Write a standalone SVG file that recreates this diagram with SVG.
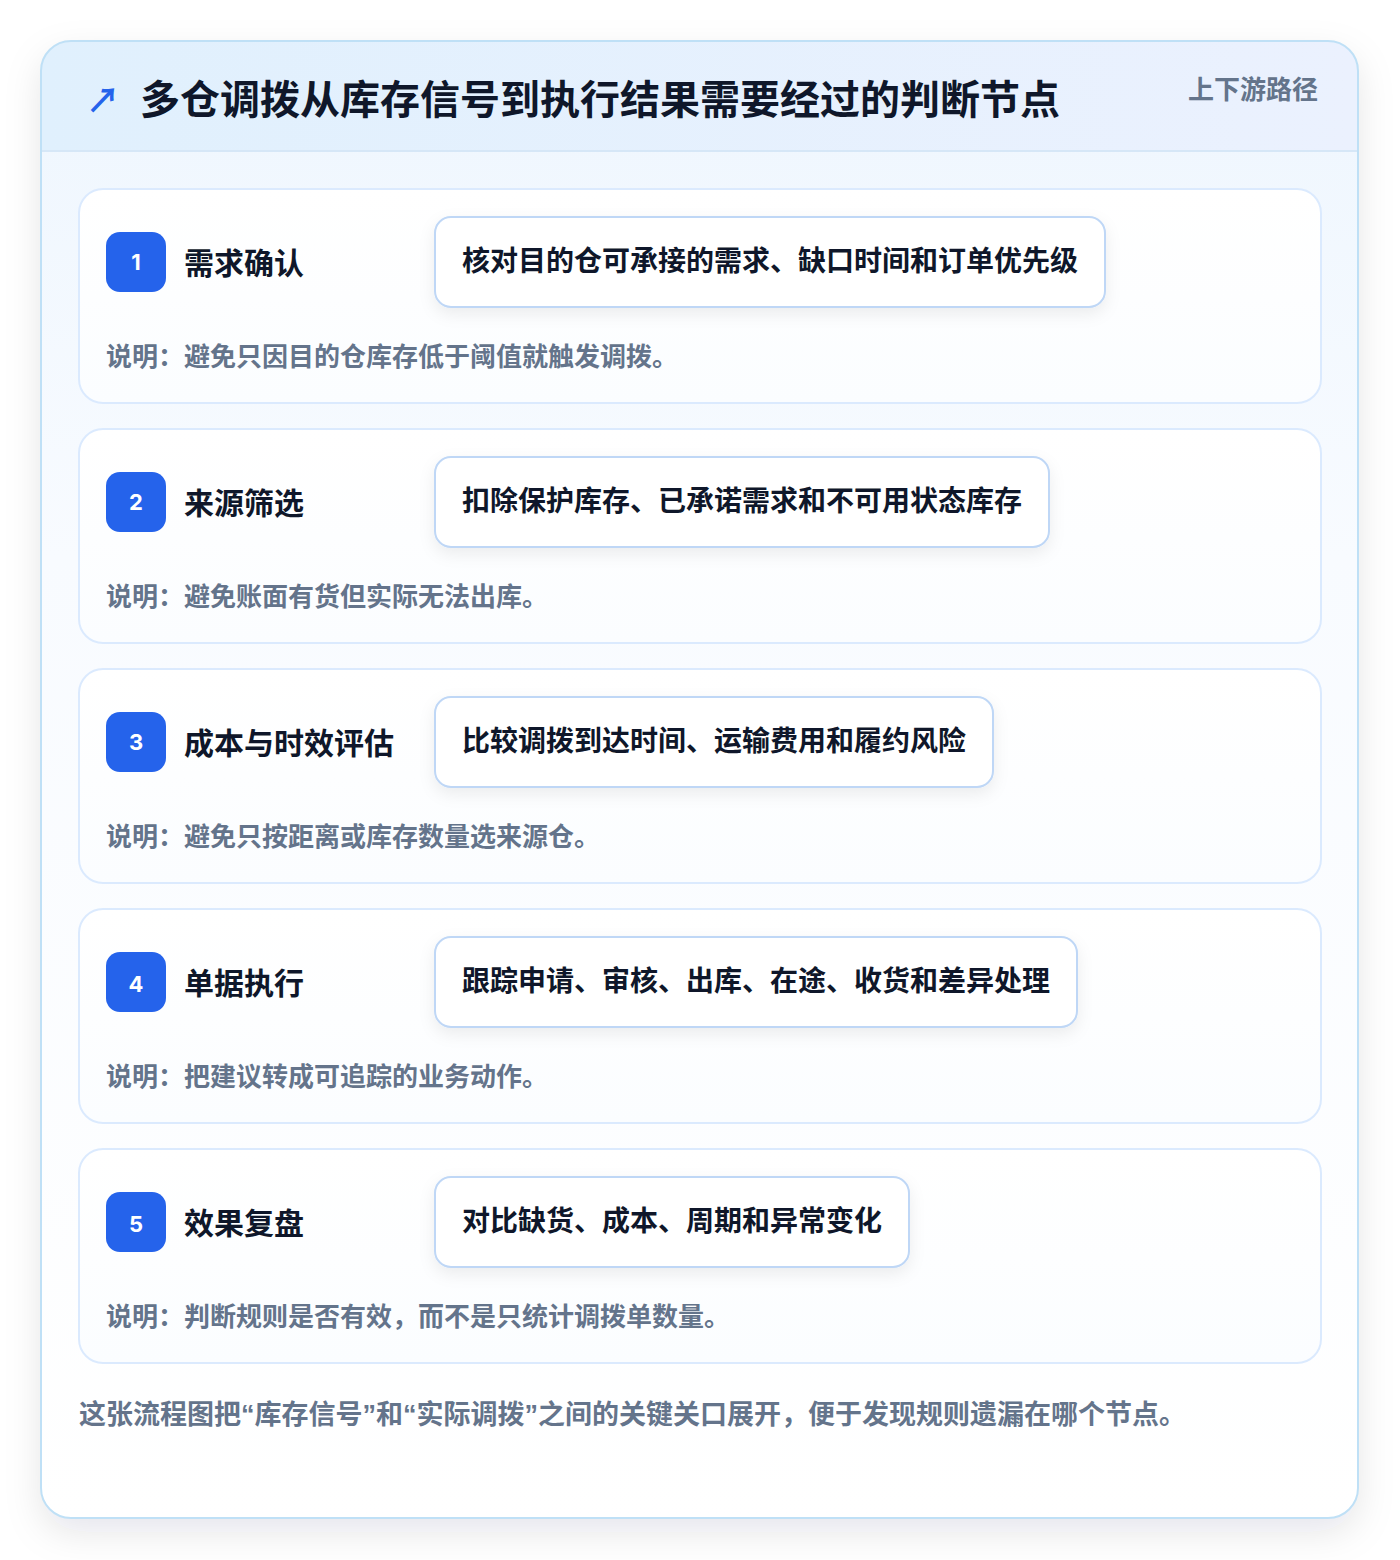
<svg xmlns="http://www.w3.org/2000/svg" width="1400" height="1560" viewBox="0 0 1400 1560">
  <defs>
    <linearGradient id="outerFill" x1="0" y1="0" x2="0" y2="1">
      <stop offset="0" stop-color="#eef6fe"/>
      <stop offset="0.35" stop-color="#f8fbff"/>
      <stop offset="1" stop-color="#ffffff"/>
    </linearGradient>
    <linearGradient id="headFill" x1="0" y1="0" x2="1" y2="0">
      <stop offset="0" stop-color="#e0f0fd"/>
      <stop offset="1" stop-color="#ebf1fe"/>
    </linearGradient>
    <linearGradient id="cardFill" x1="0" y1="0" x2="0" y2="1">
      <stop offset="0" stop-color="#ffffff"/>
      <stop offset="1" stop-color="#fbfdff"/>
    </linearGradient>
    <filter id="outerShadow" x="-10%" y="-10%" width="120%" height="120%">
      <feDropShadow dx="0" dy="14" stdDeviation="18" flood-color="#0f172a" flood-opacity="0.10"/>
    </filter>
    <filter id="pillShadow" x="-10%" y="-30%" width="120%" height="170%">
      <feDropShadow dx="0" dy="6" stdDeviation="8" flood-color="#0f172a" flood-opacity="0.07"/>
    </filter>
    <clipPath id="outerClip">
      <rect x="41" y="41" width="1317" height="1477" rx="30"/>
    </clipPath>
    <style>
      .cjk { font-family: "Noto Sans CJK SC", "Noto Sans", sans-serif; font-weight: 700; }
      .title { font-size: 40px; fill: #0f172a; }
      .tag { font-size: 26px; fill: #64748b; }
      .card { fill: url(#cardFill); stroke: #dbeafe; stroke-width: 2; }
      .badge { fill: #2563eb; }
      .num { font-family: "Inter", "Liberation Sans", sans-serif; font-weight: 700; font-size: 22px; fill: #ffffff; text-anchor: middle; }
      .label { font-size: 30px; fill: #0f172a; }
      .pill { fill: #ffffff; stroke: #bfd7f6; stroke-width: 2; }
      .pilltext { font-size: 28px; fill: #0f172a; }
      .note { font-size: 26px; fill: #64748b; }
      .foot { font-family: "Liberation Sans", "Noto Sans CJK SC", sans-serif; font-weight: 700; font-size: 27px; fill: #64748b; }
    </style>
  </defs>

  <rect width="1400" height="1560" fill="#ffffff"/>

  <g id="frame">
    <rect x="41" y="41" width="1317" height="1477" rx="30" fill="url(#outerFill)" filter="url(#outerShadow)"/>
    <g clip-path="url(#outerClip)">
      <rect x="41" y="41" width="1317" height="110" fill="url(#headFill)"/>
      <line x1="41" y1="151" x2="1358" y2="151" stroke="#d6e7f7" stroke-width="2"/>
    </g>
    <rect x="41" y="41" width="1317" height="1477" rx="30" fill="none" stroke="#bfe0f6" stroke-width="2"/>
  </g>

  <g id="header">
    <text class="cjk" x="86" y="113" font-size="34" fill="#2563eb">↗</text>
    <text class="cjk title" x="140" y="114">多仓调拨从库存信号到执行结果需要经过的判断节点</text>
    <text class="cjk tag" x="1188" y="99">上下游路径</text>
  </g>

  <g id="connectors"></g>

  <g id="step1">
    <rect class="card" x="79" y="189" width="1242" height="214" rx="24"/>
    <rect class="badge" x="106" y="232" width="60" height="60" rx="14"/>
    <text class="num" x="136" y="270">1</text>
    <text class="cjk label" x="184" y="274">需求确认</text>
    <rect class="pill" x="435" y="217" width="670" height="90" rx="16" filter="url(#pillShadow)"/>
    <text class="cjk pilltext" x="462" y="271">核对目的仓可承接的需求、缺口时间和订单优先级</text>
    <text class="cjk note" x="106" y="366">说明：避免只因目的仓库存低于阈值就触发调拨。</text>
  </g>

  <g id="step2">
    <rect class="card" x="79" y="429" width="1242" height="214" rx="24"/>
    <rect class="badge" x="106" y="472" width="60" height="60" rx="14"/>
    <text class="num" x="136" y="510">2</text>
    <text class="cjk label" x="184" y="514">来源筛选</text>
    <rect class="pill" x="435" y="457" width="614" height="90" rx="16" filter="url(#pillShadow)"/>
    <text class="cjk pilltext" x="462" y="511">扣除保护库存、已承诺需求和不可用状态库存</text>
    <text class="cjk note" x="106" y="606">说明：避免账面有货但实际无法出库。</text>
  </g>

  <g id="step3">
    <rect class="card" x="79" y="669" width="1242" height="214" rx="24"/>
    <rect class="badge" x="106" y="712" width="60" height="60" rx="14"/>
    <text class="num" x="136" y="750">3</text>
    <text class="cjk label" x="184" y="754">成本与时效评估</text>
    <rect class="pill" x="435" y="697" width="558" height="90" rx="16" filter="url(#pillShadow)"/>
    <text class="cjk pilltext" x="462" y="751">比较调拨到达时间、运输费用和履约风险</text>
    <text class="cjk note" x="106" y="846">说明：避免只按距离或库存数量选来源仓。</text>
  </g>

  <g id="step4">
    <rect class="card" x="79" y="909" width="1242" height="214" rx="24"/>
    <rect class="badge" x="106" y="952" width="60" height="60" rx="14"/>
    <text class="num" x="136" y="992">4</text>
    <text class="cjk label" x="184" y="994">单据执行</text>
    <rect class="pill" x="435" y="937" width="642" height="90" rx="16" filter="url(#pillShadow)"/>
    <text class="cjk pilltext" x="462" y="991">跟踪申请、审核、出库、在途、收货和差异处理</text>
    <text class="cjk note" x="106" y="1086">说明：把建议转成可追踪的业务动作。</text>
  </g>

  <g id="step5">
    <rect class="card" x="79" y="1149" width="1242" height="214" rx="24"/>
    <rect class="badge" x="106" y="1192" width="60" height="60" rx="14"/>
    <text class="num" x="136" y="1232">5</text>
    <text class="cjk label" x="184" y="1234">效果复盘</text>
    <rect class="pill" x="435" y="1177" width="474" height="90" rx="16" filter="url(#pillShadow)"/>
    <text class="cjk pilltext" x="462" y="1231">对比缺货、成本、周期和异常变化</text>
    <text class="cjk note" x="106" y="1326">说明：判断规则是否有效，而不是只统计调拨单数量。</text>
  </g>

  <g id="footer">
    <text class="foot" x="79" y="1424">这张流程图把“库存信号”和“实际调拨”之间的关键关口展开，便于发现规则遗漏在哪个节点。</text>
  </g>
</svg>
